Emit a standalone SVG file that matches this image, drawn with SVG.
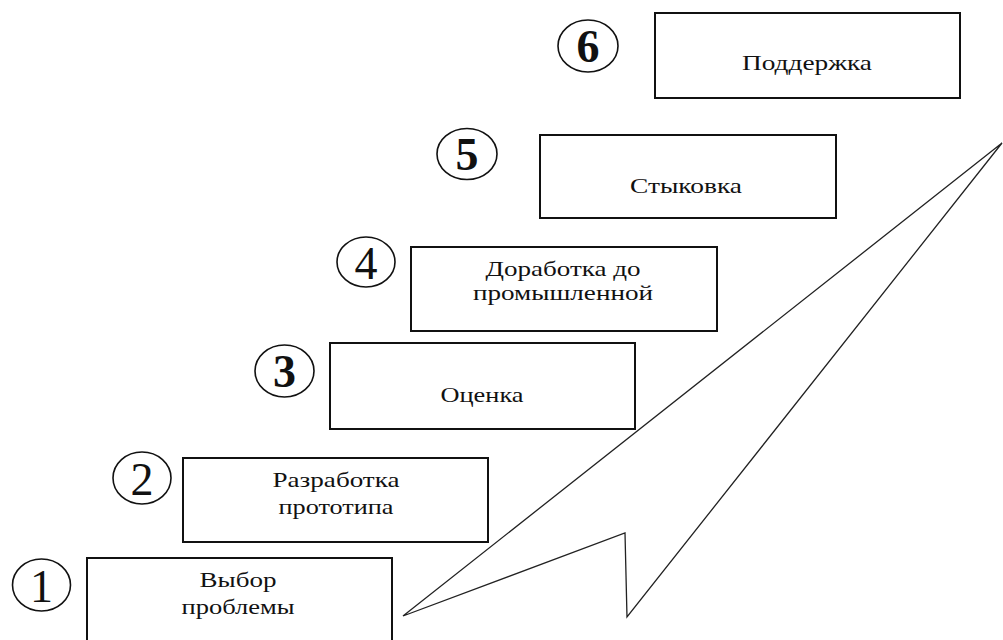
<svg xmlns="http://www.w3.org/2000/svg" width="1003" height="640" viewBox="0 0 1003 640">
<style>
.box{fill:#fff;stroke:#111;stroke-width:2}
.num{fill:none;stroke:#111;stroke-width:1.6}
.t{font-family:"Liberation Serif","Times New Roman",serif;font-size:21px;fill:#111;text-anchor:middle}
.d{font-family:"Liberation Serif","Times New Roman",serif;font-size:46px;fill:#111;text-anchor:middle}
.b{font-weight:bold}
.arrow{fill:#fff;stroke:#222;stroke-width:1.3;stroke-linejoin:miter}
</style>
<rect width="1003" height="640" fill="#fff"/>
<g id="connectors">
<polygon class="arrow" points="403,616 1002,143 627,617 625,533"/>
</g>
<g id="node1">
<ellipse class="num" cx="41.5" cy="585" rx="29" ry="26"/>
<text class="d" x="41.5" y="602">1</text>
<rect class="box" x="87" y="558" width="305" height="90"/>
<text class="t" x="238" y="587" textLength="77" lengthAdjust="spacingAndGlyphs">Выбор</text>
<text class="t" x="238" y="614" textLength="113" lengthAdjust="spacingAndGlyphs">проблемы</text>
</g>
<g id="node2">
<ellipse class="num" cx="142" cy="478" rx="29" ry="26"/>
<text class="d" x="142" y="495">2</text>
<rect class="box" x="183" y="458" width="305" height="84"/>
<text class="t" x="336" y="487" textLength="127" lengthAdjust="spacingAndGlyphs">Разработка</text>
<text class="t" x="336" y="514" textLength="115" lengthAdjust="spacingAndGlyphs">прототипа</text>
</g>
<g id="node3">
<ellipse class="num" cx="284.5" cy="371" rx="29.5" ry="26"/>
<text class="d b" x="284.5" y="387">3</text>
<rect class="box" x="330" y="343" width="305" height="86"/>
<text class="t" x="482" y="402" textLength="83" lengthAdjust="spacingAndGlyphs">Оценка</text>
</g>
<g id="node4">
<ellipse class="num" cx="366" cy="262" rx="29" ry="25"/>
<text class="d" x="366" y="279">4</text>
<rect class="box" x="411" y="247" width="306" height="84"/>
<text class="t" x="563" y="276" textLength="155" lengthAdjust="spacingAndGlyphs">Доработка до</text>
<text class="t" x="563" y="300" textLength="180" lengthAdjust="spacingAndGlyphs">промышленной</text>
</g>
<g id="node5">
<ellipse class="num" cx="467" cy="154" rx="30" ry="25.5"/>
<text class="d b" x="467" y="170">5</text>
<rect class="box" x="540" y="135" width="296" height="83"/>
<text class="t" x="686" y="193" textLength="112" lengthAdjust="spacingAndGlyphs">Стыковка</text>
</g>
<g id="node6">
<ellipse class="num" cx="588" cy="46" rx="30" ry="26"/>
<text class="d b" x="588" y="62">6</text>
<rect class="box" x="655" y="13" width="305" height="85"/>
<text class="t" x="807" y="70" textLength="130" lengthAdjust="spacingAndGlyphs">Поддержка</text>
</g>
</svg>
